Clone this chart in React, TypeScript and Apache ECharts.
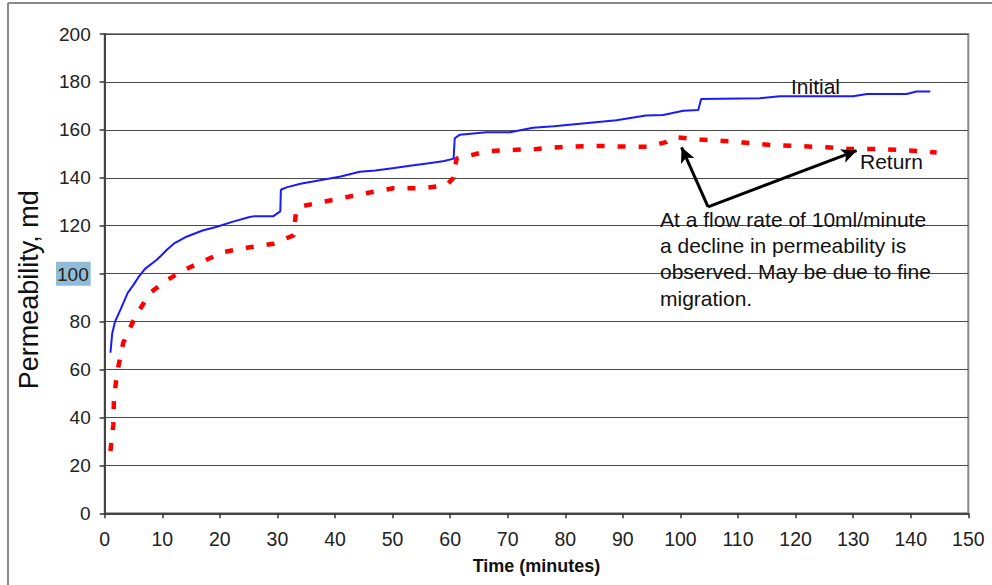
import React, { useEffect, useRef } from "react";
import * as echarts from "echarts";

const initialTime = [1, 1.3, 1.8, 2.7, 4, 5, 6, 7, 9, 10, 10.8, 12, 14.2, 17, 19.5, 22, 25, 26, 29.3, 30.5, 30.6, 31.6, 34, 38.6, 41, 44.3, 47, 50, 53, 56, 59, 60.6, 60.8, 61.7, 64, 66.3, 70.4, 74.4, 78, 83, 88.9, 94, 97, 100.5, 103.1, 103.6, 113.8, 117.3, 130, 132.4, 139.3, 141, 143.4];
const initialPerm = [67, 75, 80, 84.8, 92, 95.3, 99, 102, 105.7, 108, 110, 112.5, 115.4, 118, 119.6, 121.5, 123.5, 124, 124, 126, 135, 136, 137.5, 139.5, 140.5, 142.5, 143, 144, 145, 146, 147, 148, 156.5, 158, 158.5, 159, 159, 160.9, 161.5, 162.7, 164, 166, 166.2, 168, 168.3, 172.9, 173.2, 174, 174, 175, 175, 176, 176];

const returnTime = [1, 1.5, 1.6, 2.1, 3.2, 5.3, 7.9, 10.8, 14.2, 20.6, 25.2, 29.3, 32.8, 33.2, 33.9, 38, 40.9, 45.2, 50.1, 55.3, 59.4, 60.6, 61.1, 66.3, 70.4, 75, 80.2, 86, 90.7, 94.7, 97.6, 99, 103.4, 107.5, 110.9, 115.6, 120.1, 125.4, 129.4, 134.6, 140.4, 144.5];
const returnPerm = [26, 37, 47, 58, 71, 82, 92, 97.3, 102, 109, 111, 112.5, 116, 125, 128, 130, 131.4, 133.5, 135.6, 135.6, 137, 140, 148, 151, 151.6, 152, 153, 153.3, 153, 153, 155, 157, 156, 155.4, 154.7, 153.7, 153.3, 152.7, 152, 152, 151.3, 150.6];

const xTicks = { min: 0, max: 150, interval: 10 };
const yTicks = { min: 0, max: 200, interval: 20 };

const arrowFrom = [104.8, 127.9];
const arrowTo1 = [100.2, 152.7];
const arrowTo2 = [130.6, 151.3];

const seriesNames = ["Initial", "Return"];
const noteLines = [
  "At a flow rate of 10ml/minute",
  "a decline in permeability is",
  "observed. May be due to fine",
  "migration.",
];

export default function App() {
  const ref = useRef<HTMLDivElement>(null);
  useEffect(() => {
    if (!ref.current) return;
    const chart = echarts.init(ref.current, null, { renderer: "svg" });
    const font = "'Liberation Sans', Arial, sans-serif";
    const initialData = initialTime.map((t, i) => [t, initialPerm[i]]);
    const returnData = returnTime.map((t, i) => [t, returnPerm[i]]);
    chart.setOption({
      animation: false,
      backgroundColor: "#fff",
      grid: {
        left: 104.7,
        right: 23.7,
        top: 34,
        bottom: 71.7,
        show: true,
        borderColor: "#8a8a8a",
        borderWidth: 2,
        backgroundColor: "transparent",
      },
      xAxis: {
        type: "value",
        min: xTicks.min,
        max: xTicks.max,
        interval: xTicks.interval,
        name: "Time (minutes)",
        nameLocation: "middle",
        nameGap: 44,
        nameTextStyle: { fontFamily: font, fontSize: 18, fontWeight: "bold", color: "#111" },
        axisLine: { show: true, lineStyle: { color: "#444", width: 2 } },
        axisTick: { show: true, length: 5, lineStyle: { color: "#333", width: 1.5 } },
        axisLabel: { fontFamily: font, fontSize: 19.5, color: "#222", margin: 16 },
        splitLine: { show: false },
      },
      yAxis: {
        type: "value",
        min: yTicks.min,
        max: yTicks.max,
        interval: yTicks.interval,
        name: "Permeability, md",
        nameLocation: "middle",
        nameRotate: 90,
        nameGap: 62,
        nameTextStyle: { fontFamily: font, fontSize: 27, color: "#111", padding: [0, 32, 0, 0] },
        axisLine: { show: true, lineStyle: { color: "#444", width: 2 } },
        axisTick: { show: true, length: 5, lineStyle: { color: "#333", width: 1.5 } },
        axisLabel: {
          fontFamily: font,
          fontSize: 19,
          color: "#222",
          margin: 14,
          formatter: (v: number) => (v === 100 ? "{hl|100}" : String(v)),
          rich: {
            hl: {
              fontFamily: font,
              fontSize: 19,
              color: "#222",
              backgroundColor: "#92bcd6",
              padding: [3, 2, 2, 1],
            },
          },
        },
        splitLine: { show: true, lineStyle: { color: "#4a4a4a", width: 1.2 } },
      },
      series: [
        {
          name: seriesNames[0],
          type: "line",
          data: initialData,
          showSymbol: false,
          symbol: "none",
          lineStyle: { color: "#1a1aff", width: 2 },
          z: 3,
        },
        {
          name: seriesNames[1],
          type: "line",
          data: returnData,
          showSymbol: false,
          symbol: "none",
          lineStyle: { color: "#ff0000", width: 4.5, type: [8, 13] },
          z: 2,
          markLine: {
            silent: true,
            symbol: ["none", "arrow"],
            symbolSize: [11, 15],
            label: { show: false },
            lineStyle: { color: "#000", width: 3, type: "solid" },
            data: [
              [{ coord: arrowFrom }, { coord: arrowTo1 }],
              [{ coord: arrowFrom }, { coord: arrowTo2 }],
            ],
          },
        },
      ],
      graphic: [
        { type: "line", shape: { x1: 8, y1: 3, x2: 992, y2: 3 }, style: { stroke: "#8a8a8a", lineWidth: 2 } },
        { type: "line", shape: { x1: 8, y1: 3, x2: 8, y2: 585 }, style: { stroke: "#8a8a8a", lineWidth: 2 } },
        {
          type: "text",
          x: 791,
          y: 86,
          style: { text: seriesNames[0], fontFamily: font, fontSize: 21, fill: "#111", verticalAlign: "middle", align: "left" },
          z: 10,
        },
        {
          type: "text",
          x: 860,
          y: 161,
          style: { text: seriesNames[1], fontFamily: font, fontSize: 21, fill: "#111", verticalAlign: "middle", align: "left" },
          z: 10,
        },
        {
          type: "text",
          x: 660,
          y: 206,
          style: {
            text: noteLines.join("\n"),
            fontFamily: font,
            fontSize: 21,
            lineHeight: 26.3,
            fill: "#111",
            verticalAlign: "top",
            align: "left",
          },
          z: 10,
        },
      ],
    });
    return () => chart.dispose();
  }, []);
  return (
    <div
      ref={ref}
      style={{ position: "fixed", left: 0, top: 0, width: 992, height: 585, background: "#fff" }}
    />
  );
}
